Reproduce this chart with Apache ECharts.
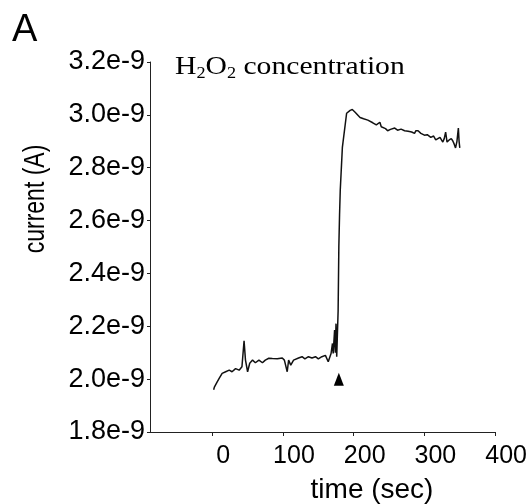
<!DOCTYPE html>
<html>
<head>
<meta charset="utf-8">
<script src="https://cdn.jsdelivr.net/npm/echarts@6/dist/echarts.min.js"></script>
<style>
  html, body { margin: 0; padding: 0; background: #fff; }
  #chart { width: 530px; height: 504px; }
</style>
</head>
<body>
<div id="chart"></div>
<script>
// time axis (sec) and measured current, in units of 1e-9 A
const timeSec = [2, 3, 7, 10, 14, 19, 24, 28, 33, 38, 42, 45, 47, 50, 53, 57, 61, 66, 71, 75,
  80, 85, 92, 99, 102, 106, 108, 111, 115, 122, 127, 131, 136, 141, 146, 150, 155, 160, 164, 168,
  170, 171, 173, 174, 175, 176, 178, 179, 180, 181, 184, 190, 195, 198, 202, 209, 214, 220, 227, 232,
  237, 239, 241, 245, 248, 252, 258, 262, 267, 272, 277, 282, 286, 288, 291, 295, 300, 304, 309, 313,
  316, 319, 322, 326, 328, 330, 332, 335, 338, 340, 342, 344, 346, 348, 349, 350];
const currentNA = [1.96, 1.97, 1.99, 2.004, 2.022, 2.028, 2.034, 2.028, 2.04, 2.034, 2.047, 2.145, 2.072, 2.028, 2.06, 2.072, 2.062, 2.072, 2.062, 2.072,
  2.079, 2.078, 2.077, 2.08, 2.072, 2.028, 2.072, 2.053, 2.072, 2.08, 2.085, 2.077, 2.085, 2.08, 2.085, 2.077, 2.085, 2.09, 2.066, 2.097,
  2.135, 2.097, 2.186, 2.10, 2.21, 2.085, 2.26, 2.5, 2.62, 2.715, 2.877, 3.006, 3.017, 3.02, 3.01, 2.99, 2.985, 2.98, 2.97, 2.962,
  2.972, 2.955, 2.96, 2.948, 2.94, 2.945, 2.95, 2.942, 2.946, 2.94, 2.938, 2.935, 2.93, 2.94, 2.94, 2.93, 2.923, 2.925, 2.915, 2.92,
  2.905, 2.91, 2.915, 2.897, 2.91, 2.935, 2.897, 2.905, 2.91, 2.902, 2.89, 2.875, 2.9, 2.95, 2.9, 2.875];
const xTicks = [0, 100, 200, 300, 400];
const arrowAt = [179, 2.0]; // H2O2 addition marker

const chart = echarts.init(document.getElementById('chart'));
const sans = 'Liberation Sans, Arial, sans-serif';
const serif = 'Liberation Serif, Times New Roman, serif';

const option = {
  animation: false,
  backgroundColor: '#fff',
  grid: { left: 150, right: 32, top: 62, bottom: 72 },
  xAxis: {
    type: 'value',
    min: -88,
    max: 400,
    axisLine: { onZero: false, lineStyle: { color: '#222', width: 1 } },
    axisTick: { customValues: xTicks, length: 4, lineStyle: { color: '#222' } },
    axisLabel: {
      customValues: xTicks, color: '#000', fontFamily: sans, fontSize: 25, margin: 12,
      padding: [0, 0, 0, 22]
    },
    splitLine: { show: false }
  },
  yAxis: {
    type: 'value',
    min: 1.8,
    max: 3.2,
    interval: 0.2,
    axisLine: { show: true, onZero: false, lineStyle: { color: '#222', width: 1 } },
    axisTick: { show: true, length: 3, lineStyle: { color: '#222' } },
    axisLabel: {
      color: '#000', fontFamily: sans, fontSize: 27, margin: 5,
      formatter: v => v.toFixed(1) + 'e-9'
    },
    splitLine: { show: false }
  },
  graphic: [
    { type: 'text', x: 12, y: 12, style: { text: 'A', fontSize: 38, fontFamily: sans, fill: '#000' } },
    {
      type: 'text', x: 36, y: 199, rotation: Math.PI / 2, scaleY: 1.25,
      style: { text: 'current (A)', fontSize: 23, fontFamily: sans, fill: '#000', align: 'center', verticalAlign: 'middle' }
    },
    {
      type: 'text', x: 372, y: 490,
      style: { text: 'time (sec)', fontSize: 28, fontFamily: sans, fill: '#000', align: 'center', verticalAlign: 'middle' }
    },
    {
      type: 'text', x: 175, y: 52, scaleX: 1.14,
      style: {
        text: '{n|H}{s|2}{n|O}{s|2}{n| concentration}',
        fill: '#000',
        rich: {
          n: { fontFamily: serif, fontSize: 26, lineHeight: 30, fill: '#000' },
          s: { fontFamily: serif, fontSize: 16, lineHeight: 30, verticalAlign: 'bottom', fill: '#000' }
        }
      }
    }
  ],
  series: [{
    type: 'line',
    data: timeSec.map((t, i) => [t, currentNA[i]]),
    showSymbol: false,
    lineStyle: { color: '#111', width: 1.5 },
    markPoint: {
      symbol: 'triangle',
      symbolSize: [10, 13],
      label: { show: false },
      itemStyle: { color: '#000' },
      data: [{ coord: arrowAt }]
    }
  }]
};
chart.setOption(option);
</script>
</body>
</html>
